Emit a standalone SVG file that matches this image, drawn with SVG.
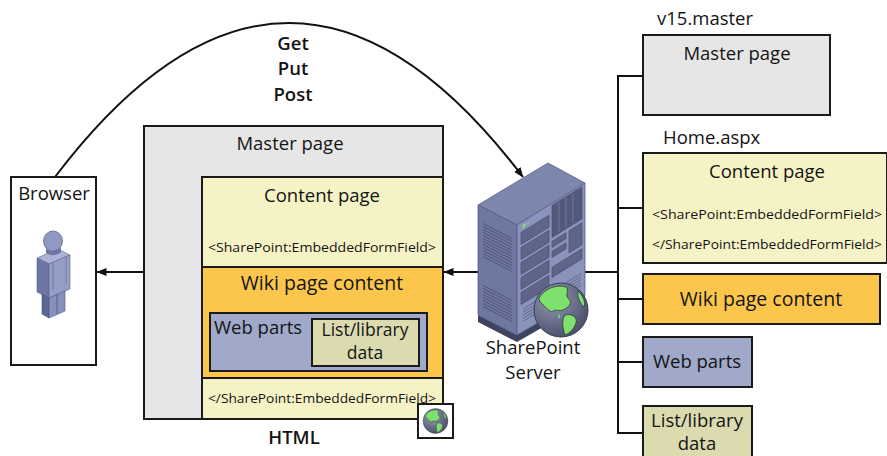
<svg xmlns="http://www.w3.org/2000/svg" width="887" height="456" viewBox="0 0 887 456">
  <style>
    text { font-family: "Open Sans", "Noto Sans", "Liberation Sans", sans-serif; fill: #141414; }
    .box { stroke: #1a1a1a; stroke-width: 2; }
    .gray { fill: #e6e6e6; }
    .cream { fill: #f5f3c5; }
    .orange { fill: #fcc64c; }
    .blue { fill: #a0a9c9; }
    .khaki { fill: #dcdbb0; }
    .lbl { font-size: 18.5px; }
    .two { font-size: 17.5px; }
    .tag { font-size: 12.5px; }
    .semi { font-weight: 600; }
    .wire { stroke: #111; stroke-width: 2; fill: none; }
  </style>
  <defs>
    <marker id="arrow" viewBox="0 0 10 8" refX="9.5" refY="4" markerWidth="10" markerHeight="8" markerUnits="userSpaceOnUse" orient="auto">
      <path d="M0,0 L10,4 L0,8 Z" fill="#111"/>
    </marker>
    <radialGradient id="globeShade" cx="0.35" cy="0.3" r="0.75">
      <stop offset="0" stop-color="#9499b5"/>
      <stop offset="1" stop-color="#4a4e68"/>
    </radialGradient>
    <!-- globe drawn around origin, radius 27 -->
    <g id="globe">
      <circle r="27" fill="url(#globeShade)" stroke="#3a3d52" stroke-width="1"/>
      <path d="M-22,-12 C-16,-22 -4,-26 5,-23 C9,-19 3,-15 8,-11 C12,-7 7,-2 2,0 C-2,2 -5,-2 -9,2 C-13,1 -16,-4 -19,-6 C-21,-8 -22,-10 -22,-12 Z" fill="#7ee06d" stroke="#2c3a2c" stroke-width="0.8"/>
      <path d="M4,5 C10,3 17,7 15,13 C13,19 9,23 4,25 C2,19 0,11 4,5 Z" fill="#7ee06d" stroke="#2c3a2c" stroke-width="0.8"/>
      <path d="M17,-19 C22,-14 25,-8 23,-3 C19,-7 16,-13 17,-19 Z" fill="#7ee06d" stroke="#2c3a2c" stroke-width="0.8"/>
      <path d="M-2,4 C0,6 -1,9 -3,8 Z" fill="#7ee06d"/>
    </g>
  </defs>

  <!-- connectors -->
  <g id="connectors">
    <path class="wire" d="M55,177 Q289,-131 523,177" marker-end="url(#arrow)"/>
    <line class="wire" x1="144" y1="272" x2="97" y2="272" marker-end="url(#arrow)"/>
    <line class="wire" x1="478" y1="272" x2="444" y2="272" marker-end="url(#arrow)"/>
    <line class="wire" x1="585" y1="272" x2="618" y2="272"/>
    <line class="wire" x1="618" y1="75" x2="618" y2="434"/>
    <line class="wire" x1="617" y1="76" x2="643" y2="76"/>
    <line class="wire" x1="617" y1="208" x2="643" y2="208"/>
    <line class="wire" x1="617" y1="299" x2="643" y2="299"/>
    <line class="wire" x1="617" y1="362" x2="643" y2="362"/>
    <line class="wire" x1="617" y1="433" x2="643" y2="433"/>
  </g>

  <!-- request methods -->
  <g id="methods">
    <text x="293" y="50" text-anchor="middle" class="lbl semi">Get</text>
    <text x="293" y="75" text-anchor="middle" class="lbl semi">Put</text>
    <text x="293" y="101" text-anchor="middle" class="lbl semi">Post</text>
  </g>

  <!-- browser -->
  <g id="browser">
    <rect class="box" x="11" y="177" width="85" height="188" fill="#fff"/>
    <text x="54" y="200" text-anchor="middle" class="lbl">Browser</text>
    <g id="person">
      <polygon points="37,258 58,249 70,255 49,264" fill="#aab2d6" stroke="#5c6592" stroke-width="0.6"/>
      <polygon points="37,258 49,264 49,298 37,292" fill="#6d76a3" stroke="#5c6592" stroke-width="0.6"/>
      <polygon points="49,264 70,255 70,289 49,298" fill="#939dc6" stroke="#5c6592" stroke-width="0.6"/>
      <polygon points="42,294 49,298 49,318 42,314" fill="#5d6592" stroke="#4c5480" stroke-width="0.6"/>
      <polygon points="49,298 65,291 65,311 49,318" fill="#8690bc" stroke="#4c5480" stroke-width="0.6"/>
      <line x1="57" y1="294" x2="57" y2="314" stroke="#4c5480" stroke-width="0.8"/>
      <line x1="53" y1="262" x2="53" y2="290" stroke="#5c6592" stroke-width="0.6"/>
      <line x1="66" y1="257" x2="66" y2="284" stroke="#5c6592" stroke-width="0.6"/>
      <ellipse cx="53" cy="241" rx="9.5" ry="10" fill="#8f99c2" stroke="#5c6592" stroke-width="0.8"/>
      <path d="M46,248 C49,252 57,252 61,247 L61,252 C57,256 50,256 46,253 Z" fill="#6d76a3"/>
    </g>
  </g>

  <!-- assembled page -->
  <g id="master-page">
    <rect class="box gray" x="144" y="126" width="299" height="293"/>
    <text x="290" y="150" text-anchor="middle" class="lbl">Master page</text>
  </g>
  <g id="content-page">
    <rect class="box cream" x="202" y="177" width="241" height="90"/>
    <text x="322" y="202" text-anchor="middle" class="lbl">Content page</text>
    <text x="322" y="252" text-anchor="middle" class="tag" textLength="228" lengthAdjust="spacingAndGlyphs">&lt;SharePoint:EmbeddedFormField&gt;</text>
  </g>
  <g id="wiki-content">
    <rect class="box orange" x="202" y="267" width="241" height="111"/>
    <text x="322" y="290" text-anchor="middle" class="lbl" style="font-size:19.5px">Wiki page content</text>
  </g>
  <g id="web-parts">
    <rect class="box blue" x="210" y="313" width="217" height="58"/>
    <text x="214" y="334" class="lbl">Web parts</text>
  </g>
  <g id="list-data">
    <rect class="box khaki" x="312" y="319" width="107" height="47"/>
    <text x="365" y="336" text-anchor="middle" class="two">List/library</text>
    <text x="365" y="359" text-anchor="middle" class="two">data</text>
  </g>
  <g id="content-close">
    <rect class="box cream" x="202" y="378" width="241" height="41"/>
    <text x="322" y="403" text-anchor="middle" class="tag" textLength="228" lengthAdjust="spacingAndGlyphs">&lt;/SharePoint:EmbeddedFormField&gt;</text>
  </g>
  <g id="html-badge">
    <rect x="418" y="404" width="35" height="34" fill="#fff" stroke="#1a1a1a" stroke-width="2"/>
    <use href="#globe" transform="translate(435.5,421) scale(0.46)"/>
  </g>
  <text x="294" y="444" text-anchor="middle" class="lbl semi">HTML</text>

  <!-- server -->
  <g id="sharepoint-server">
    <polygon points="478,315 517,335 585,295 585,303 517,342 478,322" fill="#3e4360"/>
    <polygon points="478,205 548,163 585,183 517,225" fill="#7d86ad" stroke="#5a6188" stroke-width="0.8"/>
    <polygon points="478,205 517,225 517,335 478,315" fill="#6f78a0" stroke="#555c82" stroke-width="0.8"/>
    <polygon points="517,225 585,183 585,295 517,335" fill="#8a93bb" stroke="#555c82" stroke-width="0.8"/>
    <!-- side vents -->
    <g transform="matrix(1,0.513,0,1,478,205)" stroke="#4e5476" stroke-width="1">
      <path d="M5,16 H34 M5,19 H34 M5,22 H34 M5,25 H34 M5,28 H34 M5,31 H34 M5,34 H34 M5,37 H34 M5,40 H34 M5,43 H34 M5,46 H34 M5,49 H34"/>
      <path d="M5,78 H34 M5,81 H34 M5,84 H34 M5,87 H34 M5,90 H34 M5,93 H34 M5,96 H34 M5,99 H34"/>
    </g>
    <!-- front panels -->
    <g transform="matrix(1,-0.6176,0,1,517,225)" fill="#5f6589" stroke="#474c6c" stroke-width="0.6">
      <rect x="4" y="10" width="28" height="12"/>
      <rect x="4" y="25" width="28" height="12"/>
      <rect x="4" y="40" width="28" height="12"/>
      <rect x="4" y="55" width="28" height="12"/>
      <rect x="4" y="70" width="28" height="12"/>
      <rect x="35" y="2" width="30" height="32" fill="#53597c"/>
      <path d="M42,3 V33 M49,3 V33 M56,3 V33" stroke="#7d86ad" fill="none"/>
      <rect x="35" y="38" width="14" height="6"/>
      <rect x="35" y="48" width="14" height="6"/>
      <rect x="52" y="38" width="13" height="22"/>
      <rect x="35" y="64" width="30" height="10"/>
      <path d="M6,88 H64 M6,91 H64 M6,94 H64 M6,97 H64 M6,100 H64" stroke="#4e5476" fill="none"/>
      <circle cx="7" cy="5" r="1.8" fill="#7ee06d" stroke="none"/>
      <circle cx="11" cy="5" r="1" fill="#7ee06d" stroke="none"/>
    </g>
    <use href="#globe" transform="translate(561,310)"/>
    <text x="533" y="354" text-anchor="middle" class="lbl">SharePoint</text>
    <text x="533" y="379" text-anchor="middle" class="lbl">Server</text>
  </g>

  <!-- source files -->
  <g id="v15-master">
    <text x="657" y="25" class="lbl">v15.master</text>
    <rect class="box gray" x="643" y="35" width="187" height="80"/>
    <text x="737" y="60" text-anchor="middle" class="lbl">Master page</text>
  </g>
  <g id="home-aspx">
    <text x="663" y="144" class="lbl">Home.aspx</text>
    <rect class="box cream" x="643" y="153" width="244" height="110"/>
    <text x="767" y="178" text-anchor="middle" class="lbl">Content page</text>
    <text x="767" y="219" text-anchor="middle" class="tag" textLength="230" lengthAdjust="spacingAndGlyphs">&lt;SharePoint:EmbeddedFormField&gt;</text>
    <text x="767" y="249" text-anchor="middle" class="tag" textLength="230" lengthAdjust="spacingAndGlyphs">&lt;/SharePoint:EmbeddedFormField&gt;</text>
  </g>
  <g id="wiki-source">
    <rect class="box orange" x="643" y="274" width="237" height="50"/>
    <text x="761" y="306" text-anchor="middle" class="lbl" style="font-size:19.5px">Wiki page content</text>
  </g>
  <g id="webparts-source">
    <rect class="box blue" x="643" y="337" width="109" height="50"/>
    <text x="697" y="368" text-anchor="middle" class="lbl">Web parts</text>
  </g>
  <g id="list-source">
    <rect class="box khaki" x="643" y="406" width="109" height="56"/>
    <text x="697" y="427" text-anchor="middle" class="lbl">List/library</text>
    <text x="697" y="450" text-anchor="middle" class="lbl">data</text>
  </g>
</svg>
